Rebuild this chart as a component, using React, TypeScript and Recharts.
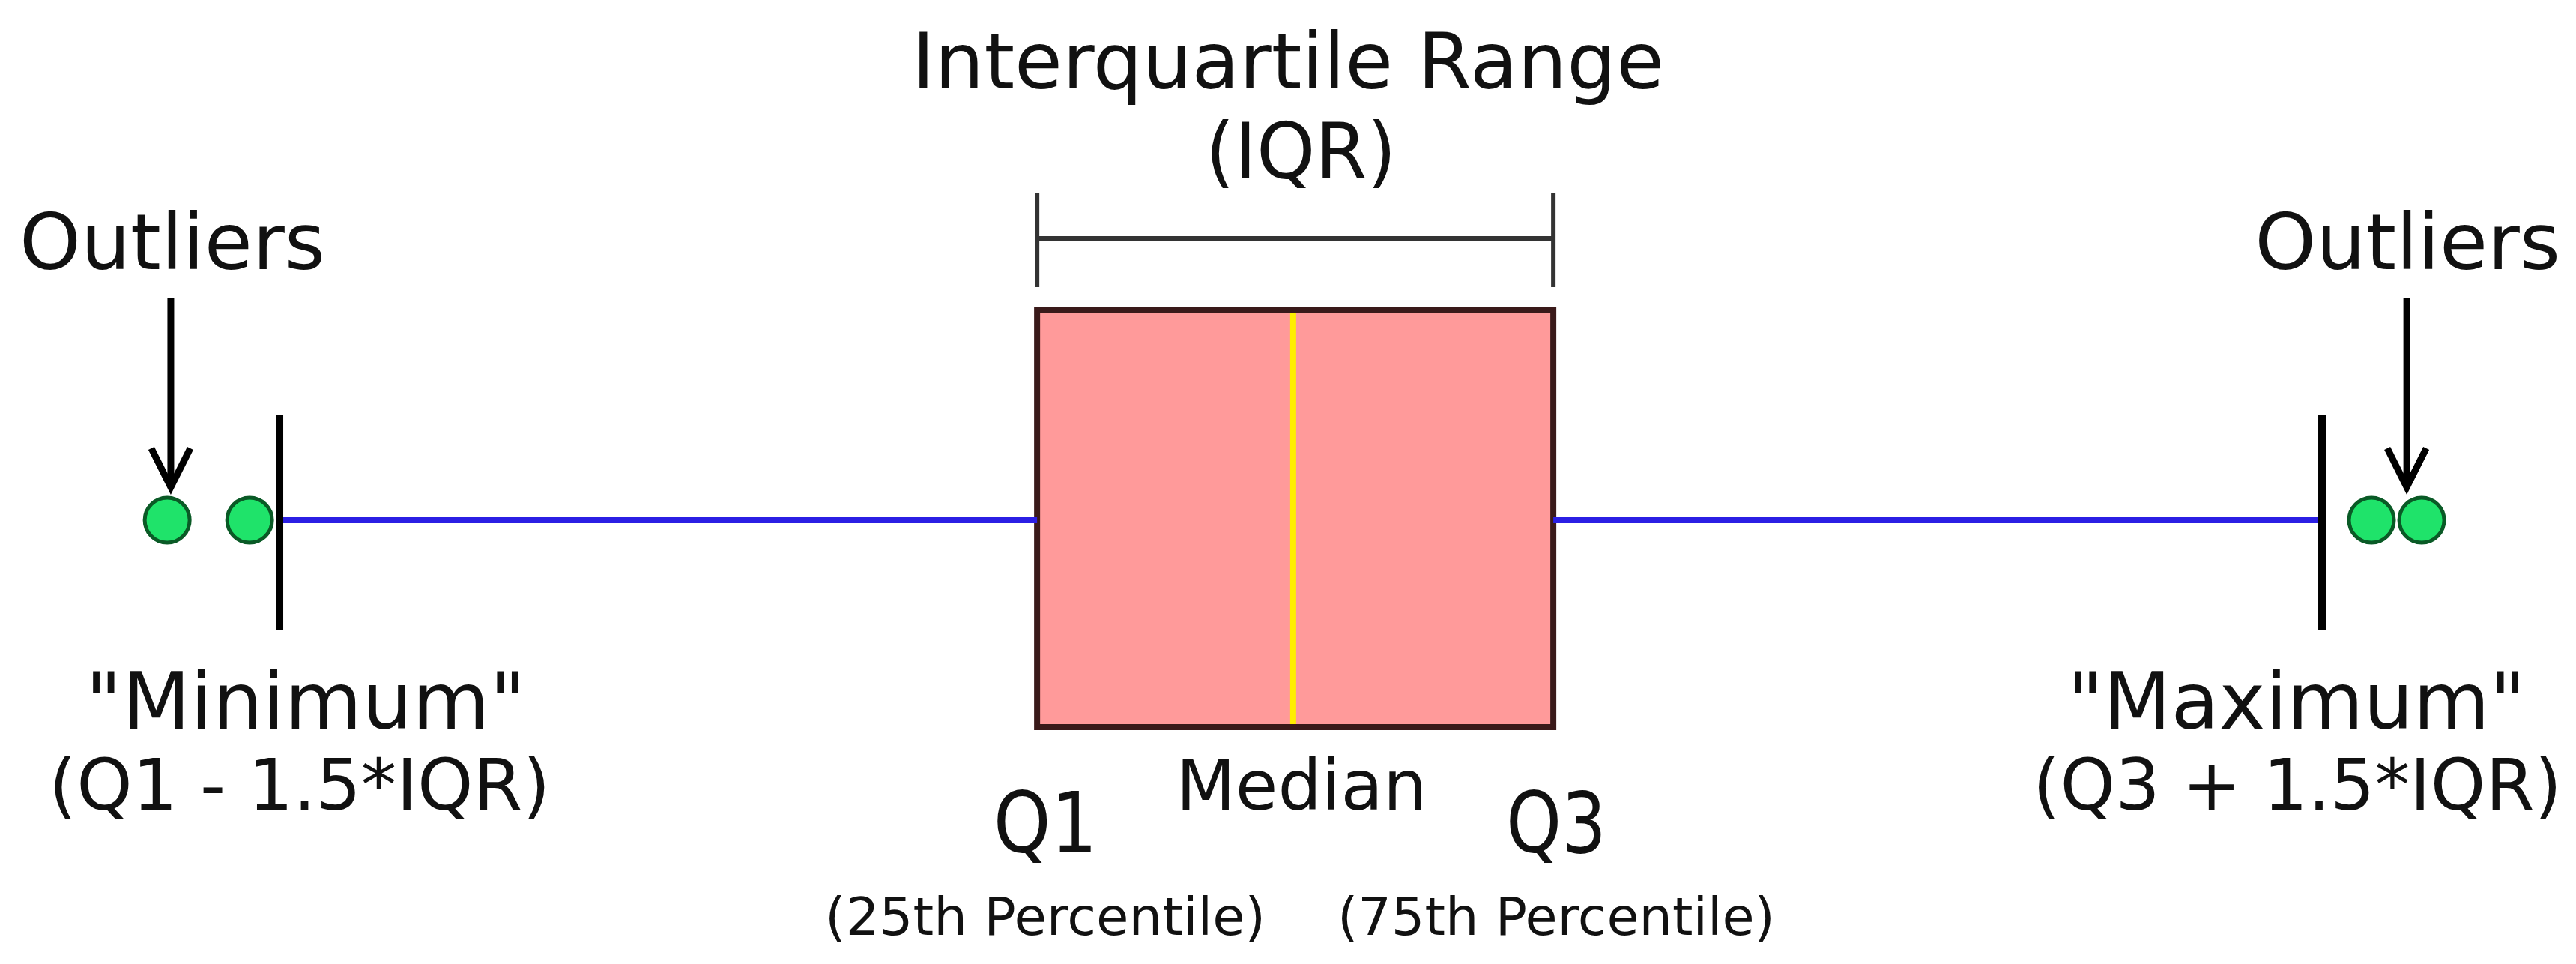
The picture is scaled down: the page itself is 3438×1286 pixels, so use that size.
import {
    ComposedChart,
    XAxis,
    YAxis,
    Scatter,
    ReferenceArea,
    ReferenceLine,
    ReferenceDot
} from 'recharts'

// five-number summary (x units)
const summaryKeys = ['minimum', 'q1', 'median', 'q3', 'maximum']
const summaryValues = [10.85, 40.26, 50.2, 60.3, 90.14]
const outlierValues = [6.49, 9.69, 92.06, 94.01]

const labelTexts = [
    'Interquartile Range',
    '(IQR)',
    'Outliers',
    'Outliers',
    '"Minimum"',
    '(Q1 - 1.5*IQR)',
    '"Maximum"',
    '(Q3 + 1.5*IQR)',
    'Q1',
    'Q3',
    'Median',
    '(25th Percentile)',
    '(75th Percentile)'
]

// layout for the labels: x in value units, y baseline in px, font size, text width
const labelLayout = [
    { x: 50.0, y: 118, size: 103, len: 1004 },
    { x: 50.5, y: 238, size: 103, len: 255 },
    { x: 6.69, y: 359, size: 104, len: 408 },
    { x: 93.46, y: 359, size: 104, len: 408 },
    { x: 11.87, y: 972, size: 105, len: 588 },
    { x: 11.63, y: 1080, size: 94, len: 669 },
    { x: 89.15, y: 972, size: 105, len: 612 },
    { x: 89.18, y: 1080, size: 94, len: 706 },
    { x: 40.58, y: 1137, size: 112, len: 139 },
    { x: 60.41, y: 1137, size: 112, len: 134 },
    { x: 50.52, y: 1080, size: 93, len: 335 },
    { x: 40.58, y: 1247, size: 70, len: 588 },
    { x: 60.41, y: 1247, size: 70, len: 584 }
]

const arrowX = [6.63, 93.43]

const W = 3438
const H = 1286
const ROW_Y = 694
const BOX_TOP = 413
const BOX_BOTTOM = 970
const CAP_TOP = 553
const CAP_BOTTOM = 840
const BRACKET_Y = 318
const BRACKET_TOP = 257
const BRACKET_BOTTOM = 383
const ARROW_TIP = 650
const ARROW_LEN = 253

const FONT = '"DejaVu Sans", Verdana, sans-serif'

const stat = (k: string) => summaryValues[summaryKeys.indexOf(k)]

const Arrow = (p: any) => (
    <g>
        <line x1={p.cx} y1={p.cy - ARROW_LEN} x2={p.cx} y2={p.cy - 4} stroke="#000" strokeWidth={9} />
        <polyline
            points={`${p.cx - 26},${p.cy - 52} ${p.cx},${p.cy} ${p.cx + 26},${p.cy - 52}`}
            fill="none"
            stroke="#000"
            strokeWidth={9}
            strokeLinejoin="miter"
        />
    </g>
)

const Outlier = (p: any) => (
    <circle cx={p.cx} cy={p.cy} r={30} fill="#1fe36a" stroke="#0a5a26" strokeWidth={5} />
)

export default function App() {
    const minimum = stat('minimum')
    const q1 = stat('q1')
    const median = stat('median')
    const q3 = stat('q3')
    const maximum = stat('maximum')
    const outliers = outlierValues.map((x) => ({ x, y: ROW_Y }))

    return (
        <div style={{ position: 'absolute', left: 0, top: 0, width: W, height: H, background: '#fff' }}>
            <ComposedChart width={W} height={H} data={outliers} margin={{ top: 0, right: 0, bottom: 0, left: 0 }}>
                <XAxis type="number" dataKey="x" domain={[0, 100]} hide />
                <YAxis type="number" dataKey="y" domain={[0, H]} reversed hide />

                {/* box */}
                <ReferenceArea
                    x1={q1}
                    x2={q3}
                    y1={BOX_TOP}
                    y2={BOX_BOTTOM}
                    fill="#ff9a9a"
                    fillOpacity={1}
                    stroke="#3a1a1a"
                    strokeWidth={8}
                />

                <Scatter data={outliers} dataKey="y" isAnimationActive={false} shape={Outlier} />

                {/* whiskers */}
                <ReferenceLine segment={[{ x: minimum, y: ROW_Y }, { x: q1, y: ROW_Y }]} stroke="#2b1fe4" strokeWidth={8} />
                <ReferenceLine segment={[{ x: q3, y: ROW_Y }, { x: maximum, y: ROW_Y }]} stroke="#2b1fe4" strokeWidth={8} />
                <ReferenceLine segment={[{ x: minimum, y: CAP_TOP }, { x: minimum, y: CAP_BOTTOM }]} stroke="#000" strokeWidth={10} />
                <ReferenceLine segment={[{ x: maximum, y: CAP_TOP }, { x: maximum, y: CAP_BOTTOM }]} stroke="#000" strokeWidth={10} />

                {/* median */}
                <ReferenceLine segment={[{ x: median, y: BOX_TOP + 4 }, { x: median, y: BOX_BOTTOM - 4 }]} stroke="#ffee00" strokeWidth={8} />

                {/* IQR bracket */}
                <ReferenceLine segment={[{ x: q1, y: BRACKET_Y }, { x: q3, y: BRACKET_Y }]} stroke="#333" strokeWidth={6} />
                <ReferenceLine segment={[{ x: q1, y: BRACKET_TOP }, { x: q1, y: BRACKET_BOTTOM }]} stroke="#333" strokeWidth={6} />
                <ReferenceLine segment={[{ x: q3, y: BRACKET_TOP }, { x: q3, y: BRACKET_BOTTOM }]} stroke="#333" strokeWidth={6} />

                {arrowX.map((x, i) => (
                    <ReferenceDot key={`arrow-${i}`} x={x} y={ARROW_TIP} r={0} shape={Arrow} />
                ))}

                {labelTexts.map((t, i) => {
                    const l = labelLayout[i]
                    return (
                        <ReferenceDot
                            key={`label-${i}`}
                            x={l.x}
                            y={l.y}
                            r={0}
                            shape={(p: any) => (
                                <text
                                    x={p.cx}
                                    y={p.cy}
                                    textAnchor="middle"
                                    fontFamily={FONT}
                                    fontSize={l.size}
                                    fill="#111"
                                    textLength={l.len}
                                    lengthAdjust="spacingAndGlyphs"
                                >
                                    {t}
                                </text>
                            )}
                        />
                    )
                })}
            </ComposedChart>
        </div>
    )
}
